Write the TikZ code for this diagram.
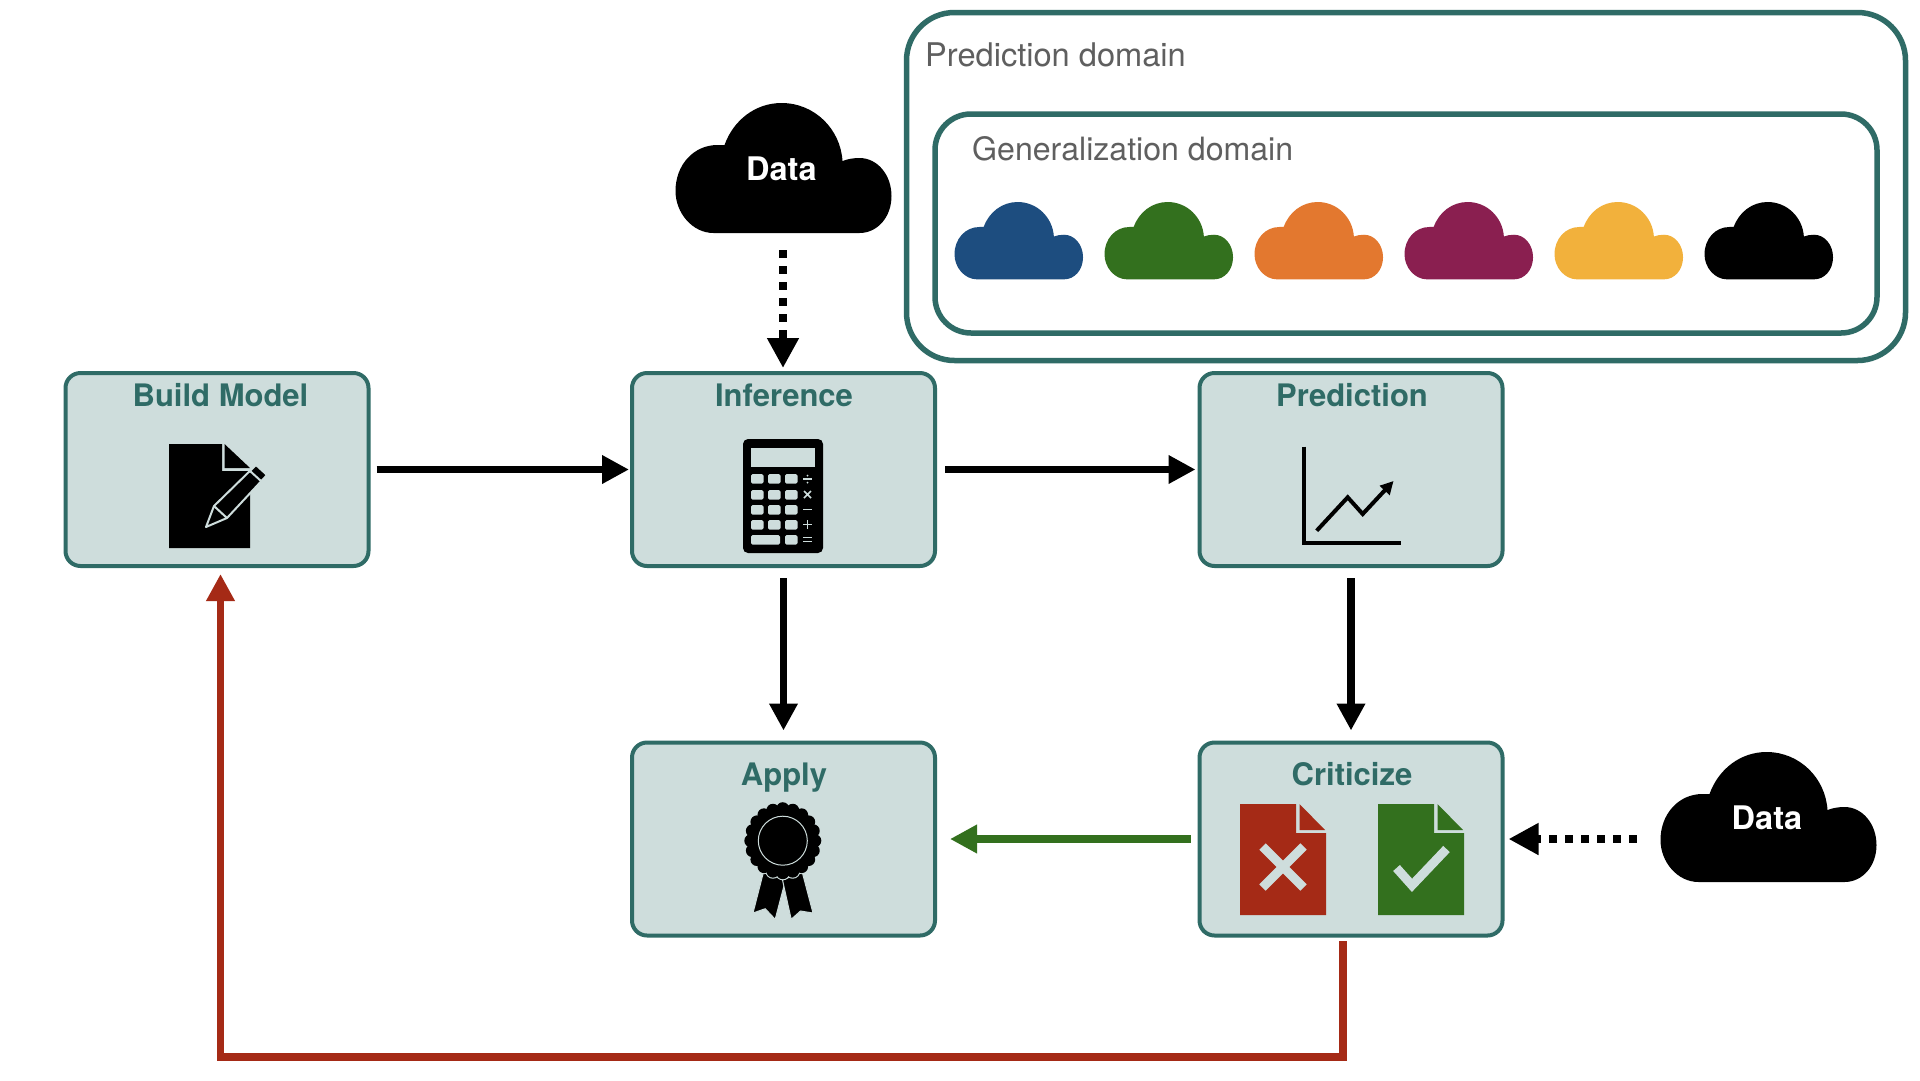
\documentclass[tikz,border=0pt]{standalone}
\usepackage{fontspec}
\setmainfont{TeX Gyre Heros}
\usetikzlibrary{arrows.meta}
\definecolor{teal1}{HTML}{2F6B66}
\definecolor{lite}{HTML}{CEDDDC}
\definecolor{redc}{HTML}{A52A16}
\definecolor{greenc}{HTML}{33701E}
\definecolor{bluec}{HTML}{1D4D7F}
\definecolor{orangec}{HTML}{E3782F}
\definecolor{purplec}{HTML}{8A1F50}
\definecolor{yellowc}{HTML}{F2B13C}
\definecolor{greytext}{HTML}{5F5F5F}
\tikzset{
  stepbox/.style={draw=teal1,fill=lite,line width=4pt,rounded corners=15pt,minimum width=303pt,minimum height=193pt,inner sep=0pt,outer sep=0pt},
  domainbox/.style={draw=teal1,line width=5.5pt},
  boxlabel/.style={anchor=base,inner sep=0pt,text=teal1,font=\fontsize{31}{36}\selectfont\bfseries},
  datalabel/.style={anchor=base,inner sep=0pt,text=white,font=\fontsize{32.5}{38}\selectfont\bfseries},
  domainlabel/.style={anchor=base west,inner sep=0pt,text=greytext,font=\fontsize{32.3}{38}\selectfont},
  flow/.style={line width=7.5pt,-{Triangle[length=27pt,width=27pt]}},
  dotflow/.style={line width=8.5pt,dash pattern=on 8pt off 8pt,-{Triangle[length=30pt,width=30pt]}},
  glyph/.style={draw=lite,line width=1.6pt},
}
\newcommand{\cloudat}[4]{%
  \begin{scope}[shift={(#1,#2)},scale=#3]
  \fill[#4] (38,130) .. controls (17,130) and (0,110) .. (0,88)
   .. controls (0,62) and (18,42) .. (42,42) -- (49,42)
   .. controls (58,17) and (80,0) .. (106,0)
   .. controls (139,0) and (165,26) .. (167,58)
   .. controls (172,56) and (178,55) .. (184,55)
   .. controls (202,55) and (216,72) .. (216,93)
   .. controls (216,114) and (202,130) .. (184,130) -- cycle;
  \end{scope}}
\newcommand{\pageat}[3]{%
  \begin{scope}[shift={(#1,#2)}]
  \fill[#3] (0,0) -- (56,0) -- (56,29) -- (86,29) -- (86,111) -- (0,111) -- cycle;
  \fill[#3] (59.5,0) -- (85,26) -- (59.5,26) -- cycle;
  \end{scope}}
\begin{document}
\begin{tikzpicture}[x=1pt,y=-1pt]
\useasboundingbox (0,0) rectangle (1920,1080);
\fill[white] (0,0) rectangle (1920,1080);

% domains
\draw[domainbox,rounded corners=48pt] (906.5,12.5) rectangle (1905.5,360.5);
\draw[domainbox,rounded corners=36pt] (935,114) rectangle (1877,333);
\node[domainlabel,font=\fontsize{32.6}{38}\selectfont] (predlab) at (925,66) {Prediction domain};
\node[domainlabel,font=\fontsize{32.1}{38}\selectfont] (genlab) at (972,160) {Generalization domain};
\cloudat{954.5}{202}{0.595}{bluec}
\cloudat{1104.5}{202}{0.595}{greenc}
\cloudat{1254.5}{202}{0.595}{orangec}
\cloudat{1404.5}{202}{0.595}{purplec}
\cloudat{1554.5}{202}{0.595}{yellowc}
\cloudat{1704.5}{202}{0.595}{black}

% step boxes
\node[stepbox] (bm) at (217,469.5) {};
\node[stepbox] (inf) at (783.5,469.5) {};
\node[stepbox] (pred) at (1351,469.5) {};
\node[stepbox] (app) at (783.5,839) {};
\node[stepbox] (crit) at (1351,839) {};
\node[boxlabel] (bmlab) at (220.5,406) {Build Model};
\node[boxlabel] (inflab) at (784,406) {Inference};
\node[boxlabel] (predlabel) at (1352,406) {Prediction};
\node[boxlabel] (applab) at (784,785) {Apply};
\node[boxlabel] (critlab) at (1352,785) {Criticize};

% data clouds
\cloudat{675.5}{103}{1}{black}
\node[datalabel] (data1) at (781.5,180) {Data};
\cloudat{1660.5}{752}{1}{black}
\node[datalabel] (data2) at (1767,829) {Data};

% connectors
\coordinate (d1out) at (783,250);
\coordinate (d2out) at (1636.5,839);
\draw[flow,shorten <=8pt,shorten >=3pt] (bm) -- (inf);
\draw[flow,shorten <=10pt,shorten >=4pt] (inf) -- (pred);
\draw[flow,shorten <=12pt,shorten >=12pt] (inf) -- (app);
\draw[flow,shorten <=12pt,shorten >=12pt] (pred) -- (crit);
\draw[flow,greenc,shorten <=9pt,shorten >=15pt] (crit) -- (app);
\draw[dotflow] (d1out) -- (783,368);
\draw[dotflow,shorten >=6pt] (d2out) -- (crit);
\coordinate (fbA) at ([xshift=-8pt]crit.south);
\coordinate (fbB) at ([xshift=3.5pt]bm.south);
\draw[flow,redc,shorten <=5.5pt,shorten >=8pt] (fbA) -- ++(0,121.5) -| (fbB);

% icon: document with pencil
\fill[black] (169,444) -- (222,444) -- (222,471) -- (250,471) -- (250,548) -- (169,548) -- cycle;
\fill[black] (224.5,444) -- (250,468) -- (224.5,468) -- cycle;
\fill[black,draw=lite,line width=2pt,line join=round] (206,527) -- (214,506) -- (256,465) -- (267,475) -- (227,518) -- cycle;
\draw[lite,line width=2pt] (214,506) -- (227,518);
\draw[lite,line width=2pt] (250,471) -- (261,481);

% icon: calculator
\fill[black,rounded corners=5pt] (743,439) rectangle (823,553);
\fill[lite] (751,448) rectangle (815,467);
\foreach \yy in {474,490,505,520}{
  \foreach \xx in {751,768,785}{
    \fill[lite,rounded corners=1.5pt] (\xx,\yy) rectangle ++(12.5,9.5);
  }
}
\fill[lite,rounded corners=1.5pt] (751,535) rectangle (780,544.5);
\fill[lite,rounded corners=1.5pt] (785,535) rectangle (797.5,544.5);
\draw[glyph] (803,479) -- (812,479);
\fill[lite] (807.5,475.5) circle[radius=1pt] (807.5,482.5) circle[radius=1pt];
\draw[glyph] (804,491) -- (811,498) (811,491) -- (804,498);
\draw[glyph] (803,509.5) -- (812,509.5);
\draw[glyph] (803,524.5) -- (812,524.5) (807.5,520) -- (807.5,529);
\draw[glyph] (803,537.5) -- (812,537.5) (803,541.5) -- (812,541.5);

% icon: chart
\draw[black,line width=4pt,miter limit=10] (1303.5,446.5) -- (1303.5,543) -- (1401,543);
\draw[black,line width=4pt,-{Triangle[length=13pt,width=13pt]}] (1316.7,530.7) -- (1347.7,497.3) -- (1362.7,514) -- (1393.5,481);

% icon: rosette
\fill[black,draw=lite,line width=1pt] (763.5,872) -- (753,913) -- (765.2,908.7) -- (775.2,919.3) -- (785.5,880) -- cycle;
\fill[black,draw=lite,line width=1pt] (802.2,872) -- (813,913) -- (800.5,911) -- (791.2,919.3) -- (782.5,880) -- cycle;
\begin{scope}
\clip (740,868) rectangle (830,890);
\foreach \a in {0,18,...,342}{
  \fill[lite] ({782.8+32*cos(\a)},{840.7+32*sin(\a)}) circle[radius=7.6pt];
}
\end{scope}
\fill[black] (782.8,840.7) circle[radius=32.5pt];
\foreach \a in {0,18,...,342}{
  \fill[black] ({782.8+32*cos(\a)},{840.7+32*sin(\a)}) circle[radius=6.5pt];
}
\draw[lite,line width=1pt] (782.8,840.7) circle[radius=24.5pt];

% icon: rejected and accepted documents
\pageat{1240}{804}{redc}
\draw[lite,line width=9pt] (1262.5,846.5) -- (1303.5,887.5) (1303.5,846.5) -- (1262.5,887.5);
\pageat{1378}{804}{greenc}
\draw[lite,line width=9pt,miter limit=10] (1396.5,868) -- (1412,885.3) -- (1446.5,849);
\end{tikzpicture}
\end{document}
